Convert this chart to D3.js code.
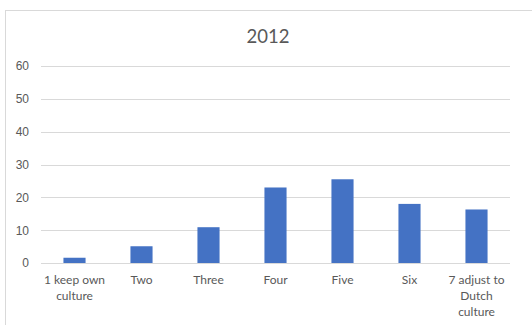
<!DOCTYPE html>
<html>
<head>
<meta charset="utf-8">
<script src="https://cdn.jsdelivr.net/npm/d3@7"></script>
<style>
  body { margin: 0; background: #fff; }
  svg { display: block; font-family: Lato, "Open Sans", sans-serif; }
</style>
</head>
<body>
<div id="chart"></div>
<script>
// chart data
const categories = ['1 keep own culture', 'Two', 'Three', 'Four', 'Five', 'Six', '7 adjust to Dutch culture'];
const values = [1.6, 5.1, 10.9, 23.0, 25.5, 18.0, 16.3];
const yTicks = [0, 10, 20, 30, 40, 50, 60];
// how the long labels wrap
const labelLines = {
  '1 keep own culture': ['1 keep own', 'culture'],
  '7 adjust to Dutch culture': ['7 adjust to', 'Dutch', 'culture']
};

const W = 532, H = 325;
const margin = { top: 66, right: 22, bottom: 62, left: 41 };

const svg = d3.select('#chart').append('svg').attr('width', W).attr('height', H);

// chart area frame (only left/top edges visible in picture)
svg.append('rect')
  .attr('x', 5.5).attr('y', 10.5)
  .attr('width', W + 20).attr('height', H + 20)
  .attr('fill', '#fff')
  .attr('stroke', '#d9d9d9');

const width = 510 - margin.left;
const height = 263 - margin.top;

const g = svg.append('g').attr('transform', `translate(${margin.left},${margin.top})`);

const x = d3.scaleBand().domain(categories).range([0, width]).paddingInner(0.67).paddingOuter(0.335);
const y = d3.scaleLinear().domain([0, 60]).range([height, 0]);

// gridlines
g.append('g')
  .selectAll('line')
  .data(yTicks)
  .join('line')
  .attr('x1', 0).attr('x2', width)
  .attr('y1', d => Math.round(y(d)) + 0.5).attr('y2', d => Math.round(y(d)) + 0.5)
  .attr('stroke', '#d9d9d9');

// y axis labels
const yAxis = d3.axisLeft(y).tickValues(yTicks).tickSize(0).tickPadding(12);
g.append('g').call(yAxis)
  .call(a => a.select('.domain').remove())
  .selectAll('text')
  .attr('fill', '#595959')
  .style('font-size', '12px');

// bars
g.append('g')
  .selectAll('rect')
  .data(values)
  .join('rect')
  .attr('x', (d, i) => x(categories[i]))
  .attr('y', d => y(d))
  .attr('width', x.bandwidth())
  .attr('height', d => y(0) - y(d))
  .attr('fill', '#4472c4');

// category labels
const xl = g.append('g')
  .selectAll('text')
  .data(categories)
  .join('text')
  .attr('x', d => x(d) + x.bandwidth() / 2)
  .attr('y', height + 21)
  .attr('text-anchor', 'middle')
  .attr('fill', '#595959')
  .style('font-size', '12px');

xl.selectAll('tspan')
  .data(d => labelLines[d] || [d])
  .join('tspan')
  .attr('x', function() { return d3.select(this.parentNode).attr('x'); })
  .attr('dy', (d, i) => i === 0 ? 0 : 16)
  .text(d => d);

// title
svg.append('text')
  .attr('x', 268)
  .attr('y', 43)
  .attr('text-anchor', 'middle')
  .attr('fill', '#595959')
  .style('font-size', '18.5px')
  .text('2012');
</script>
</body>
</html>
